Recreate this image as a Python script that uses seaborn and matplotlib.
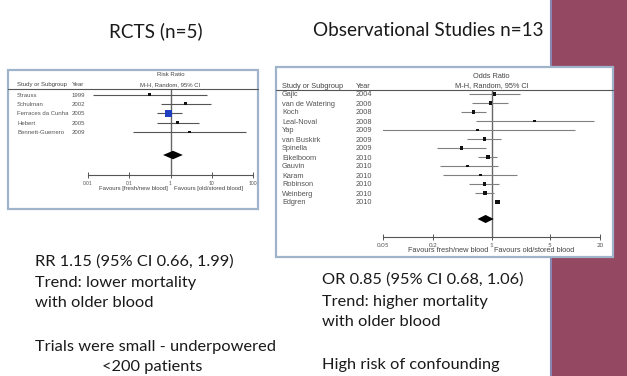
import numpy as np
import pandas as pd
import matplotlib
matplotlib.use("Agg")
import matplotlib.pyplot as plt
import matplotlib.transforms as mtransforms
from matplotlib.patches import Rectangle
from matplotlib.lines import Line2D
import seaborn as sns

# RCT forest plot (risk ratio)
rct_study = ["Strauss", "Schulman", "Ferraces da Cunha", "Hebert", "Bennett-Guerrero"]
rct_year = ["1999", "2002", "2005", "2005", "2009"]
rct_est = [0.31, 2.3, 0.9, 1.48, 2.9]
rct_lo = [0.0135, 0.6, 0.48, 0.48, 0.126]
rct_hi = [7.5, 9.8, 1.95, 5.0, 66.0]
rct_weight = [2, 4, 60, 6, 1]
rct_pool = (1.15, 0.66, 1.99)
rct_ticks = [0.01, 0.1, 1, 10, 100]
rct_ticklabels = ["0.01", "0.1", "1", "10", "100"]

# observational forest plot (odds ratio)
obs_study = ["Gajic", "van de Watering", "Koch", "Leal-Noval", "Yap", "van Buskirk",
             "Spinella", "Eikelboom", "Gauvin", "Karam", "Robinson", "Weinberg", "Edgren"]
obs_year = ["2004", "2006", "2008", "2008", "2009", "2009", "2009",
            "2010", "2010", "2010", "2010", "2010", "2010"]
obs_est = [1.09, 0.97, 0.61, 3.3, 0.68, 0.83, 0.44, 0.9, 0.52, 0.74, 0.83, 0.83, 1.18]
obs_lo = [0.53, 0.58, 0.43, 0.65, 0.049, 0.51, 0.22, 0.68, 0.24, 0.26, 0.53, 0.63, 1.13]
obs_hi = [2.2, 1.59, 0.85, 17.0, 10.0, 1.31, 0.87, 1.18, 1.2, 2.03, 1.24, 1.06, 1.23]
obs_weight = [6, 8, 9, 2, 1, 7, 5, 12, 4, 3, 8, 11, 14]
obs_pool = (0.85, 0.68, 1.06)
obs_ticks = [0.05, 0.2, 1, 5, 20]
obs_ticklabels = ["0.05", "0.2", "1", "5", "20"]

W, H = 627, 376
sns.set_style("white")
plt.rcParams["font.family"] = ["Lato", "DejaVu Sans"]

fig = plt.figure(figsize=(W / 100, H / 100), dpi=100)
fig.patch.set_facecolor("white")


def rect(x0, y0, x1, y1):
    return [x0 / W, 1 - y1 / H, (x1 - x0) / W, (y1 - y0) / H]


def ftext(x, y, s, **kw):
    fig.text(x / W, 1 - y / H, s, **kw)


def hline(x0, x1, y, **kw):
    fig.add_artist(Line2D([x0 / W, x1 / W], [1 - y / H, 1 - y / H],
                          transform=fig.transFigure, **kw))


# maroon strip on the right of the slide
fig.add_artist(Rectangle((550 / W, 0), (W - 550) / W, 1, transform=fig.transFigure,
                         facecolor="#944862", edgecolor="none", zorder=0))
fig.add_artist(Line2D([551 / W, 551 / W], [0, 1], transform=fig.transFigure,
                      color="#8a86b4", lw=1.5, zorder=0))

# slide titles
ftext(156, 31, "RCTS (n=5)", ha="center", va="center", fontsize=13.6, color="#1a1a1a")
ftext(428, 31, "Observational Studies n=13", ha="center", va="center", fontsize=13.6,
      color="#1a1a1a")


def forest(box, axbox, header_y, row0, step, names, years, est, lo, hi, weight, pool,
           ticks, ticklabels, measure, name_x, year_x, fs, ci_color, fav_left, fav_right,
           sizes, big_blue=None):
    bx0, by0, bx1, by1 = box
    fig.add_artist(Rectangle((bx0 / W, 1 - by1 / H), (bx1 - bx0) / W, (by1 - by0) / H,
                             transform=fig.transFigure, facecolor="white",
                             edgecolor="#9fb4ca", lw=1.6, zorder=1))
    ax0, ax1, ay1, dy = axbox
    n = len(names)
    diamond_row = (dy - row0) / step
    ax = fig.add_axes(rect(ax0, header_y, ax1, ay1))
    ax.set_facecolor("none")
    ax.set_zorder(2)
    ax.set_xscale("log")
    ax.set_xlim(ticks[0], ticks[-1])
    ax.set_ylim((ay1 - row0) / step, (header_y - row0) / step)

    rows = np.arange(n)
    df = pd.DataFrame({"row": rows, "est": est, "w": weight,
                       "col": ["blue" if i == big_blue else "black" for i in rows]})
    ax.hlines(rows, lo, hi, color=ci_color, lw=0.8)
    sns.scatterplot(data=df, x="est", y="row", size="w", sizes=sizes, marker="s",
                    hue="col", palette={"black": "#111111", "blue": "#1d3fc0"},
                    linewidth=0, legend=False, ax=ax, zorder=3)
    est_p, lo_p, hi_p = pool
    dh = 0.45
    ax.fill([lo_p, est_p, hi_p, est_p], [diamond_row, diamond_row - dh, diamond_row,
                                         diamond_row + dh], color="black", lw=0, zorder=3)
    ax.axvline(1, color="#666666", lw=1.0, zorder=1)

    for s in ["top", "right", "left"]:
        ax.spines[s].set_visible(False)
    ax.spines["bottom"].set_color("#555555")
    ax.spines["bottom"].set_linewidth(0.8)
    ax.set_yticks([])
    ax.set_xticks(ticks)
    ax.set_xticklabels(ticklabels)
    ax.minorticks_off()
    ax.tick_params(axis="x", direction="inout", length=5, width=0.7, colors="#555555",
                   labelsize=fs * 0.85, pad=1.5, bottom=True)
    ax.set_xlabel("")
    ax.set_ylabel("")

    # study names and years
    tr = mtransforms.blended_transform_factory(fig.transFigure, ax.transData)
    for i in rows:
        ax.text(name_x / W, i, names[i], transform=tr, fontsize=fs, color="#555555",
                va="center_baseline", ha="left", family="Liberation Sans", clip_on=False)
        ax.text(year_x / W, i, years[i], transform=tr, fontsize=fs, color="#555555",
                va="center_baseline", ha="left", family="Liberation Sans", clip_on=False)

    # header
    xc = ax0 + (ax1 - ax0) * (0 - np.log10(ticks[0])) / (np.log10(ticks[-1]) - np.log10(ticks[0]))
    hdr = dict(fontsize=fs, color="#444444", va="center_baseline", family="Liberation Sans",
               zorder=3)
    ftext(xc, header_y - 15, measure, ha="center", **hdr)
    ftext(xc, header_y - 5, "M-H, Random, 95% CI", ha="center", **hdr)
    ftext(name_x, header_y - 5, "Study or Subgroup", ha="left", **hdr)
    ftext(year_x, header_y - 5, "Year", ha="left", **hdr)
    hline(bx0, bx1, header_y, color="#555555", lw=0.8, zorder=3)
    ftext(xc - 3, ay1 + 13, fav_left, ha="right", **hdr)
    ftext(xc + 3, ay1 + 13, fav_right, ha="left", **hdr)
    return ax


forest((8, 70, 258, 209), (88, 253, 175, 155), 89, 94.5, 9.4,
       rct_study, rct_year, rct_est, rct_lo, rct_hi, rct_weight, rct_pool,
       rct_ticks, rct_ticklabels, "Risk Ratio", 17, 72, 4.3, "#555555",
       "Favours [fresh/new blood]", "Favours [old/stored blood]", (3, 26), big_blue=2)

forest((276, 67, 613, 257), (383, 600, 237, 219), 90, 94, 9.0,
       obs_study, obs_year, obs_est, obs_lo, obs_hi, obs_weight, obs_pool,
       obs_ticks, obs_ticklabels, "Odds Ratio", 282, 356, 5.3, "#808080",
       "Favours fresh/new blood", "Favours old/stored blood", (3, 9))

# summary text below the plots
body = dict(fontsize=11.8, color="#1a1a1a", va="center", ha="left")
ftext(35, 262, "RR 1.15 (95% CI 0.66, 1.99)", **body)
ftext(35, 283, "Trend: lower mortality", **body)
ftext(35, 303, "with older blood", **body)
ftext(35, 347, "Trials were small - underpowered", **body)
ftext(102, 367, "<200 patients", **body)

ftext(322, 280, "OR 0.85 (95% CI 0.68, 1.06)", **body)
ftext(322, 302, "Trend: higher mortality", **body)
ftext(322, 322, "with older blood", **body)
ftext(322, 365, "High risk of confounding", **body)

fig.savefig("out.png", dpi=100, facecolor="white")
